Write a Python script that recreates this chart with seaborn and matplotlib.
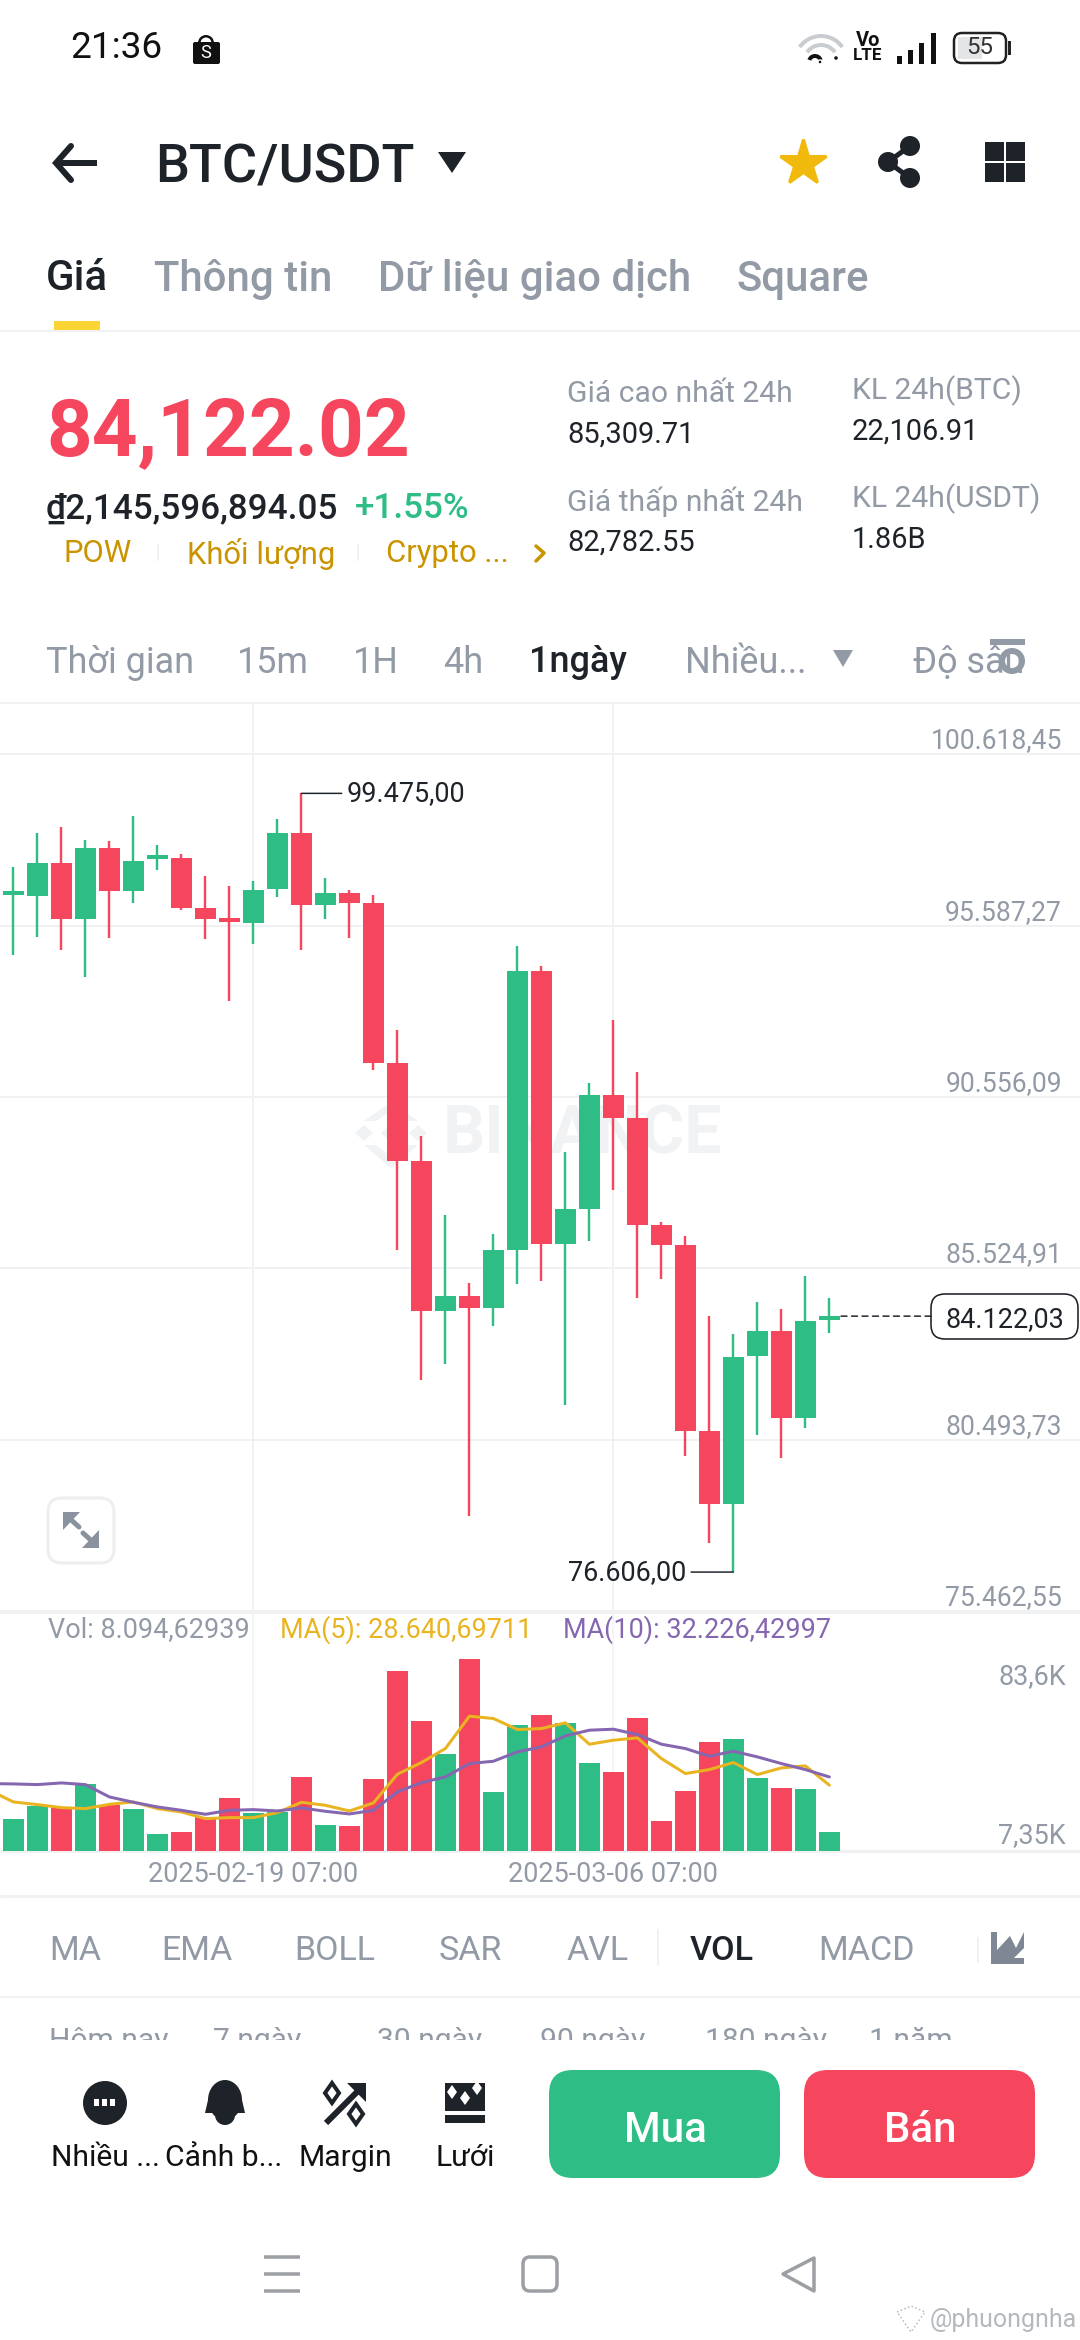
import matplotlib
matplotlib.use("Agg")
import matplotlib.pyplot as plt
import numpy as np
import pandas as pd
import seaborn as sns
from matplotlib.patches import Circle, Ellipse, FancyBboxPatch, Polygon, Rectangle, Wedge

# candles
opens = [96488, 96454, 97432, 95780, 97870, 96606, 97533, 97584, 96117, 95763, 95678, 96656, 98309, 96201, 96555, 96269, 91548,
         88682, 84264, 84703, 84365, 86068, 94262, 86237, 87282, 90604, 89946, 86793, 86220, 80740, 78616, 82949, 83674, 81128, 84020]
closes = [96521, 97432, 95780, 97870, 96606, 97499, 97584, 96117, 95780, 95695, 96639, 98309, 96201, 96555, 96269, 91548, 88682,
          84264, 84703, 84365, 86068, 94262, 86237, 87282, 90604, 89946, 86793, 86220, 80740, 78616, 82915, 83674, 81128, 83978, 84122]
highs = [97314, 98325, 98477, 98106, 98073, 98814, 97955, 97685, 97044, 96741, 96892, 98713, 99475, 96977, 96639, 96488, 92526,
         89407, 87080, 85107, 86540, 94987, 94397, 88951, 90974, 92812, 91278, 86877, 86490, 84112, 83590, 84534, 84332, 85293, 84669]
lows = [94717, 95257, 94886, 94094, 95223, 96252, 97230, 96049, 95206, 93385, 95038, 96420, 94886, 95780, 95223, 91345, 86068,
        82258, 82713, 78262, 83826, 85057, 85141, 81516, 86338, 87839, 84669, 85225, 80016, 77470, 76606, 80622, 79948, 80825, 83624]
volumes = [14094, 19615, 18889, 29060, 19906, 18162, 7265, 8137, 14821, 23248, 16564, 17000, 32257, 11188, 10752, 31530, 78317, 56812,
           42428, 83600, 25718, 54778, 59137, 55650, 38214, 34291, 57975, 12932, 26009, 47513, 48676, 31821, 27462, 26881, 8094]
# first MA point is the off-screen day left of the first candle
ma5 = [26445, 21359, 20197, 18889, 18453, 20342, 21359, 18453, 17000, 14094, 14530, 14530, 16710, 21214, 19906, 17436, 20923, 33419,
       38505, 44607, 58701, 57684, 52889, 53325, 55795, 46496, 48240, 49257, 40248, 33710, 35453, 38505, 33274, 36180, 37052, 28640]
ma10 = [29351, 29205, 28915, 29641, 28915, 23539, 21214, 19180, 17727, 15983, 17727, 18017, 17436, 18744, 17291, 16128, 17727, 25718,
        29787, 32257, 38069, 39086, 43154, 45334, 50129, 52599, 53035, 50710, 46496, 44607, 41265, 43445, 40975, 38069, 35453, 32226]

price_ticks = [100618.45, 95587.27, 90556.09, 85524.91, 80493.73, 75462.55]
price_labels = ["100.618,45", "95.587,27", "90.556,09", "85.524,91", "80.493,73", "75.462,55"]
date_ticks = [10, 25]
date_labels = ["2025-02-19 07:00", "2025-03-06 07:00"]
vol_labels = ["83,6K", "7,35K"]
last_price = 84122.03

GREEN = "#2EBD85"
RED = "#F6465D"
DARK = "#1E2329"
GREY = "#929AA5"
GRID = "#EFF1F3"
GOLD = "#C99400"
YELLOW = "#F0B90B"
PURPLE = "#8566B0"
MARK = "#F1F2F4"

sns.set_theme(style="white")
plt.rcParams["font.family"] = ["Roboto", "DejaVu Sans"]

W, H = 1080, 2340
fig = plt.figure(figsize=(10.8, 23.4), dpi=100, facecolor="white")


def pt(px):
    return px * 0.72


# whole-screen layer in pixels, for the app around the chart
ui = fig.add_axes([0, 0, 1, 1], zorder=0)
ui.set_xlim(0, W)
ui.set_ylim(H, 0)
ui.axis("off")


def put(x, y, s, px, color=DARK, ha="left", weight="normal", **kw):
    return ui.text(x, y, s, fontsize=pt(px), color=color, ha=ha, va="center", fontweight=weight, **kw)


def box(x0, y0, x1, y1, r, **kw):
    ui.add_patch(FancyBboxPatch((x0 + r, y0 + r), x1 - x0 - 2 * r, y1 - y0 - 2 * r,
                                boxstyle=f"round,pad={r},rounding_size={r}", **kw))


def rule(y, x0=0, x1=W, color=GRID, lw=2):
    ui.plot([x0, x1], [y, y], color=color, lw=pt(lw), solid_capstyle="butt")


def diamond(x, y, rx, ry, **kw):
    ui.add_patch(Polygon([[x, y - ry], [x + rx, y], [x, y + ry], [x - rx, y]], **kw))


# status bar
put(70, 48, "21:36", 37, "#111111")
box(193, 42, 220, 64, 2, fc="#111111", ec="none")
ui.add_patch(Wedge((206, 43), 8, 180, 360, width=2.5, fc="#111111", ec="none"))
put(206, 53, "S", 18, "white", ha="center")
for r, c in [(28, "#C9CCD0"), (19, "#C9CCD0")]:
    ui.add_patch(Wedge((821, 62), r, 215, 325, width=4, fc=c, ec="none"))
ui.add_patch(Wedge((815, 62), 8, 200, 340, width=4, fc="#111111", ec="none"))
ui.add_patch(Circle((820, 62), 2, fc="#111111"))
ui.add_patch(Circle((836, 58), 2.5, fc="#111111"))
put(868, 41, "Vo", 20, "#111111", ha="center", weight="bold")
put(868, 56, "LTE", 17, "#111111", ha="center", weight="bold")
for x, top in zip([897, 908, 919, 931], [56, 50, 43, 33]):
    ui.add_patch(Rectangle((x, top), 4.5, 64 - top, fc="#111111", ec="none"))
box(954, 33, 1006, 63, 8, fc="white", ec="#222222", lw=pt(2.5))
ui.add_patch(Rectangle((958, 37), 24, 22, fc="#E4E5E7", ec="none"))
put(980, 48, "55", 24, "#333333", ha="center")
ui.add_patch(Rectangle((1008, 41), 2.5, 14, fc="#222222", ec="none"))

# header
ui.plot([56, 97], [163, 163], color=DARK, lw=pt(6), solid_capstyle="butt")
ui.plot([71, 56, 71], [146, 163, 180], color=DARK, lw=pt(6), solid_joinstyle="miter")
put(155, 168, "BTC/USDT", 54, DARK, weight="medium")
ui.add_patch(Polygon([[438, 152], [466, 152], [452, 173]], fc=DARK, ec="none"))
ui.plot([803], [163], marker="*", ms=pt(48), color=YELLOW, mec=YELLOW, mew=pt(3), mfc=YELLOW)
for cx, cy in [(910, 146), (888, 162), (910, 178)]:
    ui.add_patch(Circle((cx, cy), 10, fc=DARK, ec="none"))
ui.plot([910, 888, 910], [146, 162, 178], color=DARK, lw=pt(5))
for x0, y0 in [(985, 142), (1006, 142), (985, 163), (1006, 163)]:
    ui.add_patch(Rectangle((x0, y0), 19, 19, fc=DARK, ec="none"))

# top tabs
put(46, 279, "Giá", 42, DARK, weight="medium")
put(154, 279, "Thông tin", 42, GREY, weight="medium")
put(378, 279, "Dữ liệu giao dịch", 42, GREY, weight="medium")
put(737, 279, "Square", 42, GREY, weight="medium")
ui.add_patch(Rectangle((54, 321), 46, 9, fc="#FCD535", ec="none"))
rule(331)

# price block
put(46, 434, "84,122.02", 80, RED, weight="bold")
put(46, 509, "₫2,145,596,894.05", 35, DARK, weight="medium")
put(355, 509, "+1.55%", 35, GREEN, weight="medium")
put(64, 554, "POW", 31, GOLD)
put(187, 554, "Khối lượng", 31, GOLD)
put(386, 554, "Crypto ...", 31, GOLD)
ui.plot([536, 544, 536], [546, 553, 561], color=GOLD, lw=pt(3.5))
for x in [158, 358]:
    ui.plot([x, x], [545, 560], color=GRID, lw=pt(2))
put(567, 394, "Giá cao nhất 24h", 30, GREY)
put(567, 435, "85,309.71", 29, DARK)
put(567, 502, "Giá thấp nhất 24h", 30, GREY)
put(567, 543, "82,782.55", 29, DARK)
put(852, 391, "KL 24h(BTC)", 30, GREY)
put(852, 432, "22,106.91", 29, DARK)
put(852, 499, "KL 24h(USDT)", 30, GREY)
put(852, 540, "1.86B", 29, DARK)

# interval tabs
for x, s in zip([46, 237, 353, 443], ["Thời gian", "15m", "1H", "4h"]):
    put(x, 663, s, 36, GREY)
put(529, 663, "1ngày", 36, DARK, weight="medium")
put(685, 663, "Nhiều...", 36, GREY)
ui.add_patch(Polygon([[833, 650], [853, 650], [843, 667]], fc=GREY, ec="none"))
put(913, 663, "Độ sâu", 36, GREY)
ui.plot([990, 1025], [642, 642], color=GREY, lw=pt(6), solid_capstyle="butt")
ui.add_patch(Circle((1012, 661), 10, fc="white", ec=GREY, lw=pt(6)))
rule(703)

# watermark behind the candles
diamond(364, 1133, 9, 8, fc=MARK, ec="none")
diamond(391, 1133, 10, 10, fc=MARK, ec="none")
diamond(418, 1133, 9, 8, fc=MARK, ec="none")
ui.add_patch(Polygon([[391, 1102], [418, 1121], [406, 1121], [391, 1111], [376, 1121], [364, 1121]], fc=MARK, ec="none"))
ui.add_patch(Polygon([[391, 1168], [418, 1145], [406, 1145], [391, 1157], [376, 1145], [364, 1145]], fc=MARK, ec="none"))
put(443, 1136, "BINANCE", 66, MARK, weight="bold")

# expand button
box(48, 1498, 114, 1563, 14, fc="white", ec="#EDEEF0", lw=pt(3))
ui.add_patch(Polygon([[63, 1512], [80, 1512], [63, 1530]], fc="#8A929E", ec="none"))
ui.add_patch(Polygon([[99, 1548], [82, 1548], [99, 1530]], fc="#8A929E", ec="none"))
ui.plot([68, 79], [1517, 1527], color="#8A929E", lw=pt(5))
ui.plot([94, 83], [1543, 1533], color="#8A929E", lw=pt(5))

# price panel: 1 px = 5031.18/171.2 of price
per_px = (price_ticks[0] - price_ticks[1]) / 171.2
day_px = 24.0
first_px = 13.4
xlim = (-first_px / day_px, (W - first_px) / day_px)

ax = fig.add_axes([0, 1 - 1611 / H, 1, (1611 - 703) / H], zorder=1)
ax.patch.set_alpha(0)
days = np.arange(len(opens))
df = pd.DataFrame({"day": days, "open": opens, "close": closes, "high": highs, "low": lows, "vol": volumes})
df["up"] = df["close"] >= df["open"]
df["bottom"] = df[["open", "close"]].min(axis=1)
df["height"] = (df["close"] - df["open"]).abs().clip(lower=120)

for is_up, color in [(True, GREEN), (False, RED)]:
    sub = df[df["up"] == is_up]
    ax.vlines(sub["day"], sub["low"], sub["high"], color=color, lw=pt(2.4), zorder=2)
    sns.barplot(data=sub, x="day", y="height", native_scale=True, color=color, saturation=1, width=0.875,
                errorbar=None, bottom=sub["bottom"].values, ax=ax, zorder=3, linewidth=0)

ax.set_xlim(*xlim)
ax.set_ylim(price_ticks[-1], price_ticks[0] + (754.4 - 703) * per_px)
ax.set_yticks(price_ticks, price_labels)
ax.set_xticks(date_ticks, [])
ax.yaxis.tick_right()
ax.tick_params(axis="y", direction="in", length=0, pad=-pt(18), labelsize=pt(26.5), labelcolor=GREY)
ax.tick_params(axis="x", length=0)
for lab in ax.get_yticklabels():
    lab.set_ha("right")
    lab.set_va("bottom")
ax.grid(True, color=GRID, lw=pt(2))
ax.set_axisbelow(True)
ax.set_xlabel("")
ax.set_ylabel("")
sns.despine(ax=ax, left=True, bottom=True, top=True, right=True)

ax.annotate("99.475,00", xy=(12, highs[12]), xytext=(pt(45), 0), textcoords="offset points", va="center",
            fontsize=pt(27), color=DARK, arrowprops=dict(arrowstyle="-", color=DARK, lw=pt(1.5), shrinkA=1, shrinkB=0))
ax.annotate("76.606,00", xy=(30, lows[30]), xytext=(-pt(47), 0), textcoords="offset points", va="center", ha="right",
            fontsize=pt(27), color=DARK, arrowprops=dict(arrowstyle="-", color=DARK, lw=pt(1.5), shrinkA=1, shrinkB=0))

# last price line and tag
ax.annotate("", xy=(34.45, last_price), xytext=((931 - first_px) / day_px, last_price),
            arrowprops=dict(arrowstyle="-", color=DARK, lw=pt(1.5), ls=(0, (4, 3)), shrinkA=0, shrinkB=0))
box(931, 1294, 1078, 1339, 14, fc="white", ec=DARK, lw=pt(1.6), zorder=5)
put(1005, 1320, "84.122,03", 27, DARK, ha="center", zorder=6)

# volume panel
vol_ax = fig.add_axes([0, 1 - 1851 / H, 1, (1851 - 1611) / H], zorder=1)
vol_ax.patch.set_alpha(0)
sns.barplot(data=df, x="day", y="vol", hue="up", palette={True: GREEN, False: RED}, dodge=False, native_scale=True,
            saturation=1, width=0.875, errorbar=None, legend=False, ax=vol_ax, linewidth=0)
ma_days = np.arange(-1, len(opens))
sns.lineplot(x=ma_days, y=ma5, color="#E9B420", lw=pt(3), ax=vol_ax, zorder=4)
sns.lineplot(x=ma_days, y=ma10, color=PURPLE, lw=pt(3), ax=vol_ax, zorder=5)
vol_ax.set_xlim(*xlim)
vol_ax.set_ylim(0, 83600 / (1851 - 1659) * (1851 - 1611))
vol_ax.set_xticks(date_ticks, date_labels)
vol_ax.set_yticks([])
vol_ax.tick_params(axis="x", length=0, pad=pt(10), labelsize=pt(27), labelcolor=GREY)
vol_ax.grid(True, axis="x", color=GRID, lw=pt(1.5))
vol_ax.set_axisbelow(True)
vol_ax.set_xlabel("")
vol_ax.set_ylabel("")
sns.despine(ax=vol_ax, left=True, bottom=True, top=True, right=True)
rule(1851, lw=3)
rule(1612, lw=3)

put(48, 1630, "Vol: 8.094,62939", 27, GREY)
put(280, 1630, "MA(5): 28.640,69711", 27, "#E9B420")
put(563, 1630, "MA(10): 32.226,42997", 27, PURPLE)
put(1066, 1677, vol_labels[0], 27, GREY, ha="right")
put(1066, 1836, vol_labels[1], 27, GREY, ha="right")
rule(1896, lw=3)

# indicator tabs
for x, s in zip([49, 161, 294, 439, 566, 818], ["MA", "EMA", "BOLL", "SAR", "AVL", "MACD"]):
    put(x, 1951, s, 34, GREY)
put(690, 1951, "VOL", 34, DARK, weight="medium")
ui.plot([658, 658], [1930, 1965], color=GRID, lw=pt(2))
ui.plot([978, 978], [1938, 1962], color=GRID, lw=pt(2))
ui.add_patch(Polygon([[991, 1932], [997, 1932], [997, 1950], [1010, 1936], [1016, 1948], [1024, 1932], [1024, 1948], [1014, 1958],
                      [1024, 1958], [1024, 1964], [991, 1964]], fc="#7F8794", ec="none"))
rule(1997)

# range row, cut off by the bottom bar
clip_box = Rectangle((0, 2000), W, 40, transform=ui.transData)
for x, s in zip([49, 213, 377, 540, 705, 869], ["Hôm nay", "7 ngày", "30 ngày", "90 ngày", "180 ngày", "1 năm"]):
    t = put(x, 2041, s, 30, GREY)
    t.set_clip_on(True)
    t.set_clip_path(clip_box)

# bottom bar
ui.add_patch(Circle((105, 2103), 22, fc=DARK, ec="none"))
for x in [94, 102, 110]:
    ui.add_patch(Rectangle((x, 2099), 5, 7, fc="white", ec="none"))
ui.add_patch(Ellipse((225, 2100), 34, 40, fc=DARK, ec="none"))
ui.add_patch(Polygon([[208, 2100], [242, 2100], [245, 2113], [205, 2113]], fc=DARK, ec="none"))
ui.add_patch(Wedge((225, 2115), 10, 0, 180, fc=DARK, ec="none"))
ui.plot([326, 362], [2123, 2087], color=DARK, lw=pt(6), solid_capstyle="butt")
ui.add_patch(Polygon([[347, 2083], [366, 2083], [366, 2102]], fc=DARK, ec="none"))
diamond(332, 2093, 7, 10, fc="white", ec=DARK, lw=pt(4))
diamond(356, 2114, 7, 10, fc="white", ec=DARK, lw=pt(4))
ui.add_patch(Rectangle((445, 2083), 40, 28, fc=DARK, ec="none"))
for x, y in [(452, 2092), (465, 2098), (477, 2088)]:
    diamond(x, y, 5, 7, fc="white", ec="none")
ui.add_patch(Rectangle((445, 2115), 40, 8, fc=DARK, ec="none"))
for x, s in zip([105, 224, 345, 465], ["Nhiều ...", "Cảnh b...", "Margin", "Lưới"]):
    put(x, 2158, s, 30, "#111111", ha="center")
box(549, 2070, 780, 2178, 24, fc=GREEN, ec="none")
box(804, 2070, 1035, 2178, 24, fc=RED, ec="none")
put(665, 2131, "Mua", 42, "white", ha="center", weight="medium")
put(920, 2131, "Bán", 42, "white", ha="center", weight="medium")

# nav bar
for y in [2257, 2274, 2291]:
    ui.plot([264, 300], [y, y], color="#9C9FA4", lw=pt(3.5), solid_capstyle="butt")
box(523, 2257, 557, 2291, 7, fc="white", ec="#9C9FA4", lw=pt(3.5))
ui.add_patch(Polygon([[814, 2258], [783, 2274], [814, 2291]], closed=True, fc="white", ec="#9C9FA4", lw=pt(3.5), joinstyle="round"))

# repost tag
put(930, 2320, "@phuongnha", 25, "#B5B9BF")
ui.add_patch(Polygon([[897, 2312], [911, 2306], [925, 2312], [911, 2332]], fc="none", ec="#B5B9BF", lw=pt(1.5), ls=":"))

fig.savefig("out.png", dpi=100, facecolor="white")
